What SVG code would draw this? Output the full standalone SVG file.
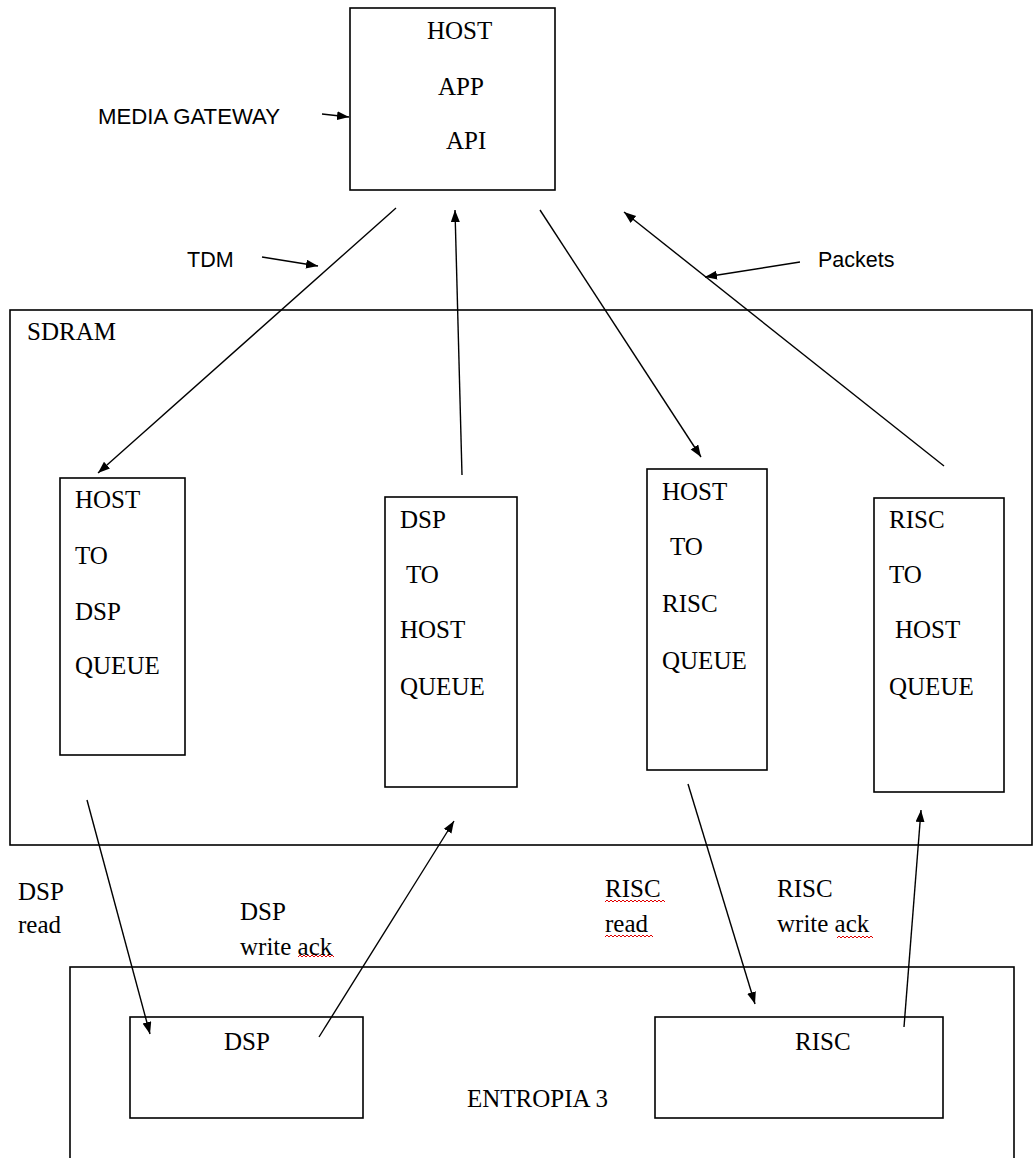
<svg xmlns="http://www.w3.org/2000/svg" width="1034" height="1158" viewBox="0 0 1034 1158">
<style>
.box{fill:none;stroke:#000;stroke-width:1.6}
.ln{fill:none;stroke:#000;stroke-width:1.4}
.t{font-family:"Liberation Serif","Times New Roman",serif;font-size:25px;fill:#000}
.s{font-family:"Liberation Sans",Arial,sans-serif;font-size:21.5px;fill:#000}
.sq{fill:none;stroke:#e00000;stroke-width:1}
</style>
<defs>
<marker id="ah" markerUnits="userSpaceOnUse" markerWidth="13" markerHeight="10" refX="12" refY="4.5" orient="auto">
<path d="M0,0 L12,4.5 L0,9 z" fill="#000"/>
</marker>
</defs>
<rect width="1034" height="1158" fill="#fff"/>

<g id="host-app-api">
<rect class="box" x="350" y="8" width="205" height="182"/>
<text class="t" x="427" y="39">HOST</text>
<text class="t" x="438" y="95">APP</text>
<text class="t" x="446" y="149">API</text>
</g>

<g id="media-gateway">
<text class="s" x="98" y="124" style="font-size:21.8px" textLength="182" lengthAdjust="spacingAndGlyphs">MEDIA GATEWAY</text>
</g>
<g id="tdm-label"><text class="s" x="187" y="267">TDM</text></g>
<g id="packets-label"><text class="s" x="818" y="267">Packets</text></g>

<g id="sdram">
<rect class="box" x="10" y="310" width="1022" height="535"/>
<text class="t" x="27" y="340">SDRAM</text>
</g>

<g id="q-host-dsp">
<rect class="box" x="60" y="478" width="125" height="277"/>
<text class="t" x="75" y="508">HOST</text>
<text class="t" x="75" y="564">TO</text>
<text class="t" x="75" y="620">DSP</text>
<text class="t" x="75" y="674">QUEUE</text>
</g>

<g id="q-dsp-host">
<rect class="box" x="385" y="497" width="132" height="290"/>
<text class="t" x="400" y="528">DSP</text>
<text class="t" x="406" y="583">TO</text>
<text class="t" x="400" y="638">HOST</text>
<text class="t" x="400" y="695">QUEUE</text>
</g>

<g id="q-host-risc">
<rect class="box" x="647" y="469" width="120" height="301"/>
<text class="t" x="662" y="500">HOST</text>
<text class="t" x="670" y="555">TO</text>
<text class="t" x="662" y="612">RISC</text>
<text class="t" x="662" y="669">QUEUE</text>
</g>

<g id="q-risc-host">
<rect class="box" x="874" y="498" width="130" height="294"/>
<text class="t" x="889" y="528">RISC</text>
<text class="t" x="889" y="583">TO</text>
<text class="t" x="895" y="638">HOST</text>
<text class="t" x="889" y="695">QUEUE</text>
</g>

<g id="entropia">
<rect class="box" x="70" y="967" width="944" height="220"/>
<text class="t" x="467" y="1107">ENTROPIA 3</text>
</g>

<g id="dsp">
<rect class="box" x="130" y="1017" width="233" height="101"/>
<text class="t" x="224" y="1050">DSP</text>
</g>

<g id="risc">
<rect class="box" x="655" y="1017" width="288" height="101"/>
<text class="t" x="795" y="1050">RISC</text>
</g>

<g id="labels">
<text class="t" x="18" y="900">DSP</text>
<text class="t" x="18" y="933">read</text>
<text class="t" x="240" y="920">DSP</text>
<text class="t" x="240" y="955">write ack</text>
<text class="t" x="605" y="897">RISC</text>
<text class="t" x="605" y="932">read</text>
<text class="t" x="777" y="897">RISC</text>
<text class="t" x="777" y="932">write ack</text>
<path class="sq" d="M298,957 l2,-2 l2,2 l2,-2 l2,2 l2,-2 l2,2 l2,-2 l2,2 l2,-2 l2,2 l2,-2 l2,2 l2,-2 l2,2 l2,-2 l2,2 l2,-2 l2,2"/>
<path class="sq" d="M605,902 l2,-2 l2,2 l2,-2 l2,2 l2,-2 l2,2 l2,-2 l2,2 l2,-2 l2,2 l2,-2 l2,2 l2,-2 l2,2 l2,-2 l2,2 l2,-2 l2,2 l2,-2 l2,2 l2,-2 l2,2 l2,-2 l2,2 l2,-2 l2,2 l2,-2 l2,2 l2,-2 l2,2"/>
<path class="sq" d="M605,937 l2,-2 l2,2 l2,-2 l2,2 l2,-2 l2,2 l2,-2 l2,2 l2,-2 l2,2 l2,-2 l2,2 l2,-2 l2,2 l2,-2 l2,2 l2,-2 l2,2 l2,-2 l2,2 l2,-2 l2,2 l2,-2 l2,2"/>
<path class="sq" d="M837,938 l2,-2 l2,2 l2,-2 l2,2 l2,-2 l2,2 l2,-2 l2,2 l2,-2 l2,2 l2,-2 l2,2 l2,-2 l2,2 l2,-2 l2,2 l2,-2 l2,2"/>
</g>

<g id="connectors">
<line class="ln" x1="322" y1="114" x2="349" y2="117" marker-end="url(#ah)"/>
<line class="ln" x1="262" y1="257" x2="318" y2="266" marker-end="url(#ah)"/>
<line class="ln" x1="800" y1="262" x2="705" y2="277" marker-end="url(#ah)"/>
<line class="ln" x1="396" y1="208" x2="98" y2="473" marker-end="url(#ah)"/>
<line class="ln" x1="462" y1="475" x2="455" y2="210" marker-end="url(#ah)"/>
<line class="ln" x1="540" y1="210" x2="701" y2="457" marker-end="url(#ah)"/>
<line class="ln" x1="944" y1="466" x2="624" y2="212" marker-end="url(#ah)"/>
<line class="ln" x1="87" y1="800" x2="150" y2="1034" marker-end="url(#ah)"/>
<line class="ln" x1="319" y1="1037" x2="454" y2="821" marker-end="url(#ah)"/>
<line class="ln" x1="688" y1="784" x2="755" y2="1004" marker-end="url(#ah)"/>
<line class="ln" x1="904" y1="1027" x2="921" y2="810" marker-end="url(#ah)"/>
</g>
</svg>
